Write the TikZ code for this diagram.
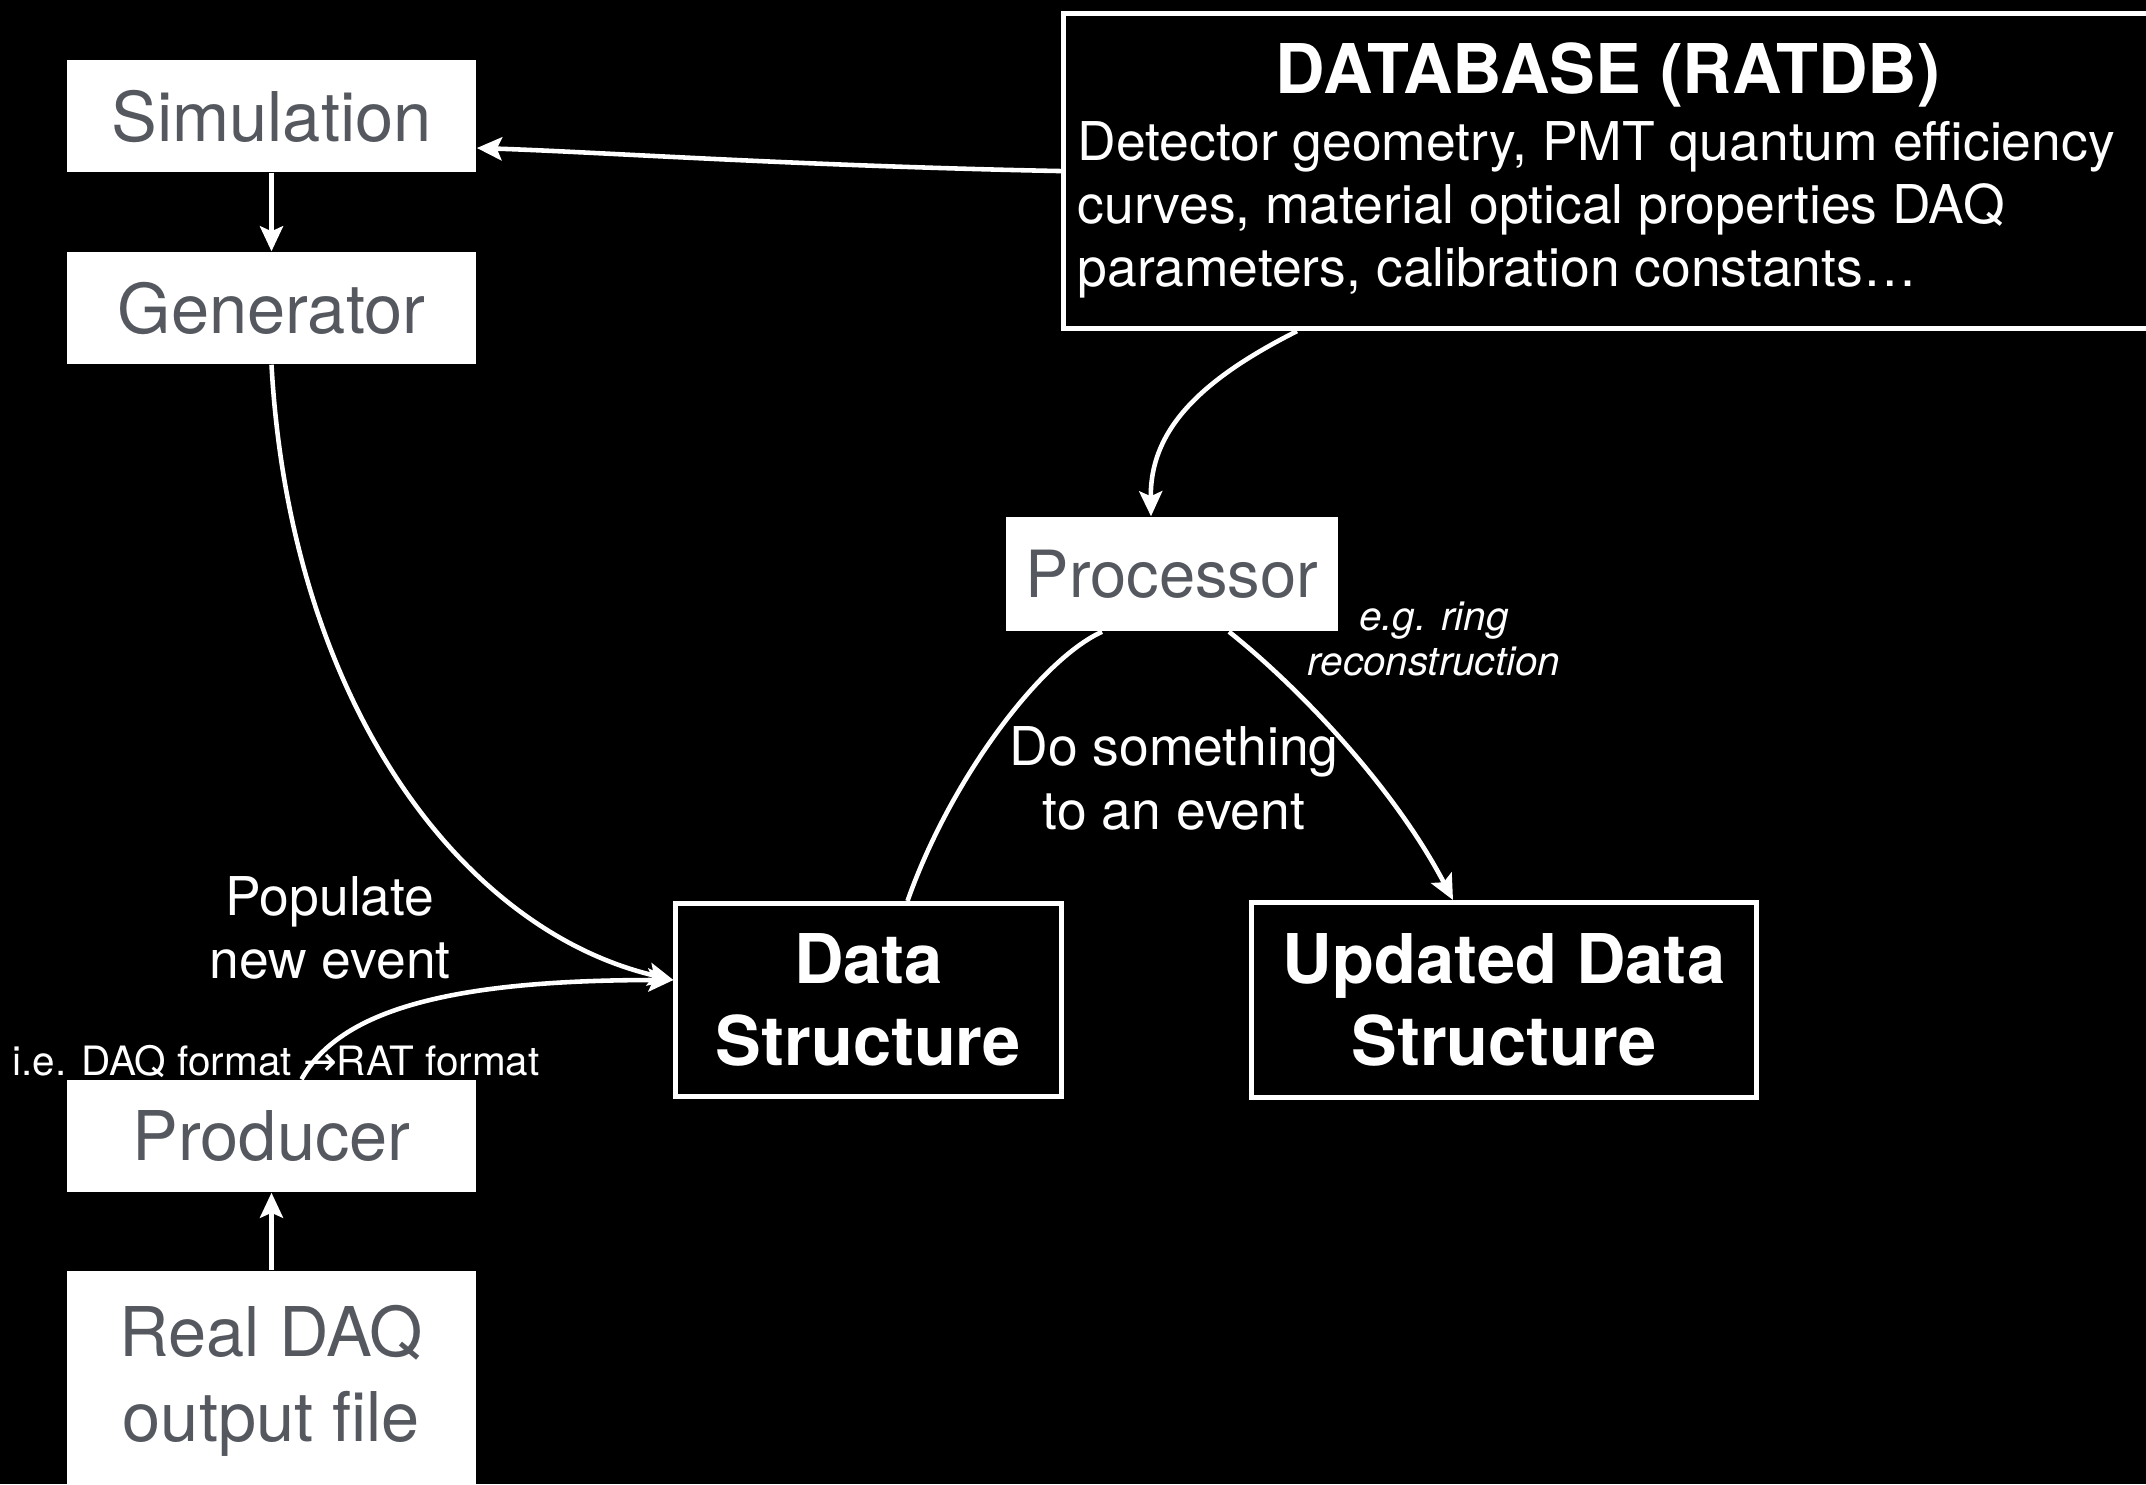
\documentclass[tikz,border=0pt]{standalone}
\usepackage{fontspec}
\setmainfont{TeX Gyre Heros}
\newfontfamily\dejavu{DejaVu Sans}
\usetikzlibrary{arrows.meta,calc}
\definecolor{labgray}{RGB}{85,89,95}
\begin{document}
\begin{tikzpicture}[x=0.01cm,y=-0.01cm,
  wbox/.style={draw=none, fill=white, text=labgray, inner sep=0pt, minimum width=4.09cm, minimum height=1.12cm, font=\fontsize{19.5}{24}\selectfont, align=center},
  kbox/.style={draw=white, line width=1.4pt, fill=black, text=white, inner sep=0pt, font=\bfseries\fontsize{19.5}{23.3}\selectfont, align=center},
  lbl/.style={text=white, inner sep=0pt, align=center},
  conn/.style={draw=white, line width=1.3pt},
  arr/.style={conn, -{Stealth[length=0.25cm,width=0.23cm,inset=0.05cm]}},
]
\useasboundingbox (0,0) rectangle (2146,1484);
\fill[black] (0,0) rectangle (2146,1484);
\clip (0,0) rectangle (2146,1484);

% boxes
\node[wbox] (sim) at (271.5,116) {Simulation};
\node[wbox] (gen) at (271.5,308) {Generator};
\node[wbox] (prod) at (271.5,1136) {Producer};
\node[wbox, minimum height=2.2cm, anchor=north] (rdaq) at (271.5,1270) {Real DAQ\\output file};
\node[wbox, minimum width=3.32cm, minimum height=1.14cm, font=\fontsize{18.5}{22}\selectfont] (proc) at (1172,574) {Processor};
\node[kbox, minimum width=3.85cm, minimum height=1.93cm] (ds) at (868.5,1000) {Data\\Structure};
\node[kbox, minimum width=5.04cm, minimum height=1.95cm] (uds) at (1504,1000) {Updated Data\\Structure};
\node[kbox, anchor=north west, minimum width=11cm, minimum height=3.15cm] (db) at (1061,11) {};
\node[lbl, font=\bfseries\fontsize{19.5}{23}\selectfont, anchor=base] (dbtitle) at (1608,93) {DATABASE (RATDB)};
\node[lbl, align=left, anchor=north west, font=\fontsize{15.2}{17.9}\selectfont] (dbbody) at (1077,121) {Detector geometry, PMT quantum efficiency\\curves, material optical properties DAQ\\parameters, calibration constants…};

% labels
\node[lbl, font=\fontsize{15.2}{18.2}\selectfont] (doit) at (1174,778) {Do something\\to an event};
\node[lbl, font=\fontsize{15.2}{18}\selectfont] (pop) at (330,928) {Populate\\new event};
\node[lbl, font=\itshape\fontsize{11.5}{13}\selectfont] (eg) at (1434,639) {e.g. ring\\reconstruction};
\node[lbl, font=\fontsize{11.5}{13}\selectfont] (ie) at (276,1061) {i.e. DAQ format {\dejavu →}RAT format};

% connectors
\draw[arr] (db.west) .. controls (800,166) and (600,152) .. ($(sim.east)+(0,32)$);
\draw[arr] (sim) -- (gen);
\draw[arr] (rdaq) -- (prod);
\draw[arr] (gen.south) .. controls (290,700) and (460,930) .. ($(ds.west)+(0,-20)$);
\draw[arr] ($(prod.north)+(30,0)$) .. controls (340,1010) and (450,980) .. ($(ds.west)+(0,-20)$);
\draw[arr] ($(db.south west)+(236,0)$) .. controls (1200,380) and (1150,430) .. ($(proc.north)+(-21,0)$);
\draw[conn] ($(ds.north)+(39,0)$) .. controls (950,780) and (1040,660) .. ($(proc.south)+(-70,0)$);
\draw[arr] ($(proc.south)+(57,0)$) .. controls (1290,680) and (1390,780) .. ($(uds.north)+(-51,0)$);
\end{tikzpicture}
\end{document}
